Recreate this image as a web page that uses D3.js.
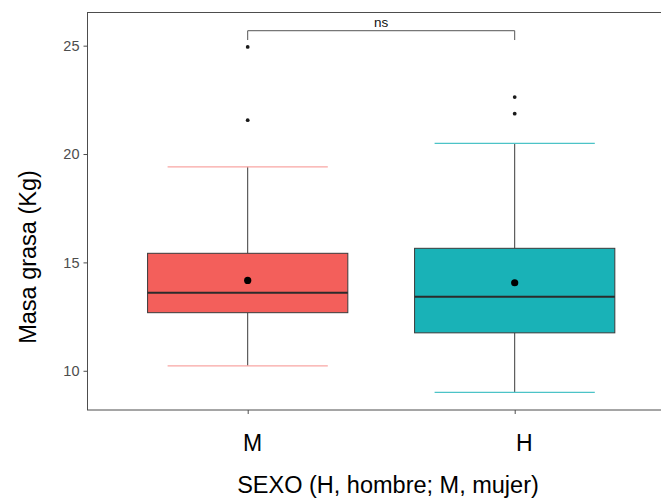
<!DOCTYPE html>
<html>
<head>
<meta charset="utf-8">
<script src="https://cdn.jsdelivr.net/npm/d3@7"></script>
<style>
  html, body { margin: 0; padding: 0; background: #fff; }
  svg { display: block; font-family: "Liberation Sans", Arial, Helvetica, sans-serif; }
</style>
</head>
<body>
<svg id="chart" width="661" height="499"></svg>
<script>
// Groups along the x axis
const categories = ["M", "H"];
// Box statistics per group (kg)
const q1Values      = [12.68, 11.75];
const medianValues  = [13.60, 13.41];
const q3Values      = [15.42, 15.65];
const lowerWhisker  = [10.23, 9.00];
const upperWhisker  = [19.41, 20.49];
const meanValues    = [14.17, 14.06];
// Outliers per group
const outlierValues = [[24.94, 21.56], [22.63, 21.86]];
// Group colours
const fillColors = ["#F35F5B", "#19B2B7"];
const capColors  = ["#F9A6A3", "#4CC3C7"];
// Y axis ticks
const yTicks = [10, 15, 20, 25];
// Significance bracket between the two groups
const bracketGroups = ["M", "H"];
const bracketY = 25.69;
const bracketTip = 25.26;
const bracketLabel = "ns";

const svg = d3.select("#chart");
const panel = { left: 87.5, right: 674.9, top: 12.5, bottom: 410 };

const x = d3.scalePoint().domain(categories).range([panel.left, panel.right]).padding(0.6);
const y = d3.scaleLinear().domain([8.19, 26.53]).range([panel.bottom, panel.top]);
const step = x.step();
const boxW = step * 0.75;
const capW = boxW * 0.4;

const data = categories.map((c, i) => ({
  cat: c, q1: q1Values[i], med: medianValues[i], q3: q3Values[i],
  lo: lowerWhisker[i], hi: upperWhisker[i], mean: meanValues[i],
  out: outlierValues[i], fill: fillColors[i], cap: capColors[i]
}));

// Panel border
svg.append("rect")
  .attr("x", panel.left).attr("y", panel.top)
  .attr("width", panel.right - panel.left).attr("height", panel.bottom - panel.top)
  .attr("fill", "none").attr("stroke", "#4D4D4D").attr("stroke-width", 1);

// Y axis
const yAxis = svg.append("g")
  .attr("transform", `translate(${panel.left},0)`)
  .call(d3.axisLeft(y).tickValues(yTicks).tickSize(4).tickPadding(4));
yAxis.select(".domain").remove();
yAxis.selectAll(".tick line").attr("stroke", "#4D4D4D");
yAxis.selectAll(".tick text")
  .attr("fill", "#4D4D4D").style("font-size", "14.5px")
  .style("font-family", "'Liberation Sans', Arial, sans-serif");

// X axis
const labelShift = { M: 4.5, H: 9 };
const xAxis = svg.append("g")
  .attr("transform", `translate(0,${panel.bottom})`)
  .call(d3.axisBottom(x).tickSize(4).tickPadding(21));
xAxis.select(".domain").remove();
xAxis.selectAll(".tick line").attr("stroke", "#4D4D4D");
xAxis.selectAll(".tick text")
  .attr("fill", "#000").attr("dx", d => labelShift[d])
  .style("font-size", "23px")
  .style("font-family", "'Liberation Sans', Arial, sans-serif");

// Boxplots
const g = svg.append("g");
const box = g.selectAll(".box").data(data).join("g").attr("class", "box");

box.append("line")
  .attr("x1", d => x(d.cat)).attr("x2", d => x(d.cat))
  .attr("y1", d => y(d.hi)).attr("y2", d => y(d.q3))
  .attr("stroke", "#3a3a3a").attr("stroke-width", 1);
box.append("line")
  .attr("x1", d => x(d.cat)).attr("x2", d => x(d.cat))
  .attr("y1", d => y(d.q1)).attr("y2", d => y(d.lo))
  .attr("stroke", "#3a3a3a").attr("stroke-width", 1);
// whisker caps
box.append("line")
  .attr("x1", d => x(d.cat) - capW).attr("x2", d => x(d.cat) + capW)
  .attr("y1", d => y(d.hi)).attr("y2", d => y(d.hi))
  .attr("stroke", d => d.cap).attr("stroke-width", 1.2);
box.append("line")
  .attr("x1", d => x(d.cat) - capW).attr("x2", d => x(d.cat) + capW)
  .attr("y1", d => y(d.lo)).attr("y2", d => y(d.lo))
  .attr("stroke", d => d.cap).attr("stroke-width", 1.2);

box.append("rect")
  .attr("x", d => x(d.cat) - boxW / 2).attr("width", boxW)
  .attr("y", d => y(d.q3)).attr("height", d => y(d.q1) - y(d.q3))
  .attr("fill", d => d.fill).attr("stroke", "#3a3a3a").attr("stroke-width", 1);
box.append("line")
  .attr("x1", d => x(d.cat) - boxW / 2).attr("x2", d => x(d.cat) + boxW / 2)
  .attr("y1", d => y(d.med)).attr("y2", d => y(d.med))
  .attr("stroke", "#2b2b2b").attr("stroke-width", 2);

// mean points
box.append("circle")
  .attr("cx", d => x(d.cat)).attr("cy", d => y(d.mean))
  .attr("r", 3.6).attr("fill", "#000");

// outliers
box.selectAll(".out").data(d => d.out.map(v => ({ cat: d.cat, v })))
  .join("circle").attr("class", "out")
  .attr("cx", d => x(d.cat)).attr("cy", d => y(d.v))
  .attr("r", 1.9).attr("fill", "#1a1a1a");

// Significance bracket
const bx1 = x(bracketGroups[0]), bx2 = x(bracketGroups[1]);
svg.append("path")
  .attr("d", `M${bx1},${y(bracketTip)}V${y(bracketY)}H${bx2}V${y(bracketTip)}`)
  .attr("fill", "none").attr("stroke", "#555").attr("stroke-width", 1);
svg.append("text")
  .attr("x", (bx1 + bx2) / 2).attr("y", y(bracketY) - 3.5)
  .attr("text-anchor", "middle").style("font-size", "13.5px").attr("fill", "#111")
  .text(bracketLabel);

// Axis titles
svg.append("text")
  .attr("x", 388).attr("y", 493)
  .attr("text-anchor", "middle").style("font-size", "23.5px").attr("fill", "#000")
  .text("SEXO (H, hombre; M, mujer)");
svg.append("text")
  .attr("transform", "translate(35.5,257) rotate(-90)")
  .attr("text-anchor", "middle").style("font-size", "23.5px").attr("fill", "#000")
  .text("Masa grasa (Kg)");
</script>
</body>
</html>
